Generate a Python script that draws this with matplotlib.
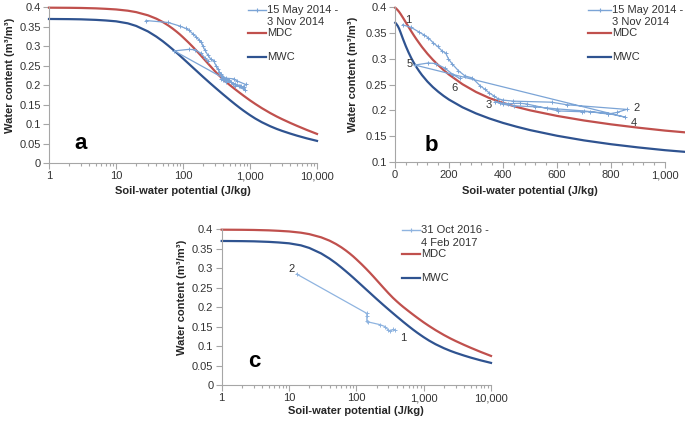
import matplotlib
matplotlib.use('Agg')
import matplotlib.pyplot as plt
from matplotlib.lines import Line2D
from matplotlib.ticker import FixedLocator, MultipleLocator, NullFormatter, LogLocator

plt.rcParams['font.family'] = ['Liberation Sans', 'DejaVu Sans']

# main drying / wetting curves
psi = [1, 2, 3, 5, 7, 10, 15, 20, 30, 40, 50, 60, 70, 80, 90, 100, 120, 140,
       160, 180, 200, 250, 300, 350, 400, 450, 500, 600, 700, 800, 900, 1000,
       1200, 1500, 2000, 2500, 3000, 4000, 5000, 7000, 10000]
mdc = [0.399, 0.3987, 0.3983, 0.3973, 0.3961, 0.3945, 0.3913, 0.3876, 0.3794,
       0.3708, 0.3621, 0.3536, 0.3454, 0.3376, 0.3302, 0.3230, 0.3100, 0.2984,
       0.2879, 0.2783, 0.2695, 0.2508, 0.2358, 0.2239, 0.2146, 0.2068, 0.2002,
       0.1894, 0.1805, 0.1730, 0.1666, 0.1609, 0.1517, 0.1410, 0.1284, 0.1195,
       0.1128, 0.1029, 0.0956, 0.0851, 0.0747]
mwc = [0.370, 0.3696, 0.3691, 0.3677, 0.3662, 0.3640, 0.3588, 0.3521, 0.3380,
       0.3247, 0.3127, 0.3018, 0.2921, 0.2835, 0.2757, 0.2685, 0.2560, 0.2454,
       0.2363, 0.2282, 0.2210, 0.2061, 0.1942, 0.1843, 0.1758, 0.1685, 0.1619,
       0.1509, 0.1419, 0.1345, 0.1283, 0.1229, 0.1142, 0.1048, 0.0945, 0.0876,
       0.0826, 0.0755, 0.0704, 0.0634, 0.0568]

# 15 May 2014 - 3 Nov 2014 measurements
obs_psi = [28, 60, 89, 109, 123, 142, 158, 173, 188, 198, 212, 235, 259, 286,
           315, 333, 349, 367, 380, 401, 438, 580, 636, 858,
           821, 789, 722, 691, 605, 562, 488, 463, 420, 390, 370,
           400, 440, 520, 600, 700, 790, 852,
           74,
           123, 150, 185, 216, 240]
obs_theta = [0.366, 0.361, 0.352, 0.346, 0.341, 0.331, 0.324, 0.316, 0.311,
             0.300, 0.290, 0.277, 0.267, 0.263, 0.248, 0.241, 0.234, 0.228,
             0.223, 0.220, 0.218, 0.216, 0.211, 0.202,
             0.196, 0.193, 0.1975, 0.1975, 0.199, 0.204, 0.2125, 0.214, 0.213,
             0.215, 0.217,
             0.212, 0.209, 0.207, 0.203, 0.199, 0.194, 0.187,
             0.288,
             0.292, 0.291, 0.282, 0.269, 0.262]

# 31 Oct 2016 - 4 Feb 2017 measurements
c_psi = [370, 355, 320, 300, 267, 225, 150, 143, 143, 143, 13]
c_theta = [0.142, 0.143, 0.139, 0.141, 0.150, 0.155, 0.162, 0.165, 0.176,
           0.184, 0.285]

log_ticks = [1, 10, 100, 1000, 10000]
log_labels = ['1', '10', '100', '1,000', '10,000']
lin_ticks = [0, 200, 400, 600, 800, 1000]
lin_labels = ['0', '200', '400', '600', '800', '1,000']
y_ticks = [0, 0.05, 0.1, 0.15, 0.2, 0.25, 0.3, 0.35, 0.4]
y_labels = ['0', '0.05', '0.1', '0.15', '0.2', '0.25', '0.3', '0.35', '0.4']

label_ab = '15 May 2014 -\n3 Nov 2014'
label_c = '31 Oct 2016 -\n4 Feb 2017'

RED = '#C0504D'
BLUE = '#2F5390'
LIGHT = '#7BA4D6'
LIGHT_C = '#8FB4E0'
GREY = '#A6A6A6'
TXT = '#333333'

W, H = 685, 422
fig = plt.figure(figsize=(W / 100, H / 100), dpi=100)


def add_axes(l, r, t, b):
    return fig.add_axes([l / W, 1 - b / H, (r - l) / W, (b - t) / H])


def style(ax, yl):
    for s in ['top', 'right']:
        ax.spines[s].set_visible(False)
    for s in ['left', 'bottom']:
        ax.spines[s].set_color(GREY)
        ax.spines[s].set_linewidth(0.8)
    ax.tick_params(which='both', direction='out', color=GREY, labelsize=8,
                   labelcolor=TXT, width=0.8)
    ax.tick_params(which='major', length=4, pad=2)
    ax.tick_params(which='minor', length=2)
    ax.set_ylabel('Water content (m\u00b3/m\u00b3)', fontsize=8,
                  fontweight='bold', color='#262626')
    ax.set_xlabel('Soil-water potential (J/kg)', fontsize=8,
                  fontweight='bold', color='#262626')
    ax.yaxis.set_label_coords(yl[0], 0.565)
    ax.xaxis.set_label_coords(0.5, yl[1])


def log_x(ax):
    ax.set_xscale('log')
    ax.set_xlim(1, 10000)
    ax.xaxis.set_major_locator(FixedLocator(log_ticks))
    ax.set_xticklabels(log_labels)
    ax.xaxis.set_minor_locator(LogLocator(base=10, subs=range(2, 10)))
    ax.xaxis.set_minor_formatter(NullFormatter())
    ax.set_ylim(0, 0.4)
    ax.set_yticks(y_ticks)
    ax.set_yticklabels(y_labels)


def legend(x0, x1, ys, label, col):
    # ys: first line, second line, MDC, MWC (pixels from top)
    xm = (x0 + x1) / 2
    fig.add_artist(Line2D([x0 / W, x1 / W], [1 - ys[0] / H] * 2, color=col, lw=1))
    fig.add_artist(Line2D([xm / W], [1 - ys[0] / H], color=col, marker='+', ms=3.5, mew=0.8))
    first, second = label.split('\n')
    fig.text((x1 + 1) / W, 1 - ys[0] / H, first, fontsize=8, color=TXT, va='center')
    fig.text((x1 + 1) / W, 1 - ys[1] / H, second, fontsize=8, color=TXT, va='center')
    fig.add_artist(Line2D([x0 / W, x1 / W], [1 - ys[2] / H] * 2, color=RED, lw=1.6))
    fig.text((x1 + 1) / W, 1 - ys[2] / H, 'MDC', fontsize=8, color=TXT, va='center')
    fig.add_artist(Line2D([x0 / W, x1 / W], [1 - ys[3] / H] * 2, color=BLUE, lw=1.6))
    fig.text((x1 + 1) / W, 1 - ys[3] / H, 'MWC', fontsize=8, color=TXT, va='center')


# panel a
ax_a = add_axes(49, 317, 7.3, 163)
ax_a.plot(psi, mdc, color=RED, lw=1.6, clip_on=False)
ax_a.plot(psi, mwc, color=BLUE, lw=1.6, clip_on=False)
ax_a.plot(obs_psi, obs_theta, color=LIGHT, lw=0.9, marker='+', ms=3, mew=0.7)
log_x(ax_a)
style(ax_a, (-0.127, -0.148))
ax_a.text(0.116, 0.125, 'a', transform=ax_a.transAxes, fontsize=16,
          fontweight='bold', ha='center', va='center')
legend(248, 266, [10, 22, 33, 56.5], label_ab, LIGHT)

# panel b
ax_b = add_axes(395, 665, 7.3, 162)
ax_b.plot(psi, mdc, color=RED, lw=1.6, clip_on=False)
ax_b.plot(psi, mwc, color=BLUE, lw=1.6, clip_on=False)
ax_b.plot(obs_psi, obs_theta, color=LIGHT, lw=0.9, marker='+', ms=3, mew=0.7)
ax_b.set_xlim(0, 1000)
ax_b.set_ylim(0.1, 0.4)
ax_b.set_xticks(lin_ticks)
ax_b.set_xticklabels(lin_labels)
ax_b.xaxis.set_minor_locator(MultipleLocator(40))
ax_b.set_yticks(y_ticks[2:])
ax_b.set_yticklabels(y_labels[2:])
style(ax_b, (-0.137, -0.158))
ax_b.text(0.136, 0.105, 'b', transform=ax_b.transAxes, fontsize=16,
          fontweight='bold', ha='center', va='center')
for n, (x, y) in enumerate([(49, 0.375), (895, 0.204), (346, 0.21),
                            (883, 0.175), (53, 0.291), (222, 0.243)], 1):
    ax_b.text(x, y, str(n), fontsize=8, color=TXT, ha='center', va='center')
legend(588, 611, [10, 22, 33, 56.5], label_ab, LIGHT)

# panel c
ax_c = add_axes(221.7, 491, 229.3, 385)
ax_c.plot(psi, mdc, color=RED, lw=1.6, clip_on=False)
ax_c.plot(psi, mwc, color=BLUE, lw=1.6, clip_on=False)
ax_c.plot(c_psi, c_theta, color=LIGHT_C, lw=0.9, marker='+', ms=3, mew=0.7)
log_x(ax_c)
style(ax_c, (-0.13, -0.132))
ax_c.text(0.12, 0.154, 'c', transform=ax_c.transAxes, fontsize=16,
          fontweight='bold', ha='center', va='center')
ax_c.text(11, 0.298, '2', fontsize=8, color=TXT, ha='center', va='center')
ax_c.text(499, 0.12, '1', fontsize=8, color=TXT, ha='center', va='center')
legend(402, 420, [230, 243, 254.3, 277.7], label_c, LIGHT_C)

fig.savefig('out.png', dpi=100)
